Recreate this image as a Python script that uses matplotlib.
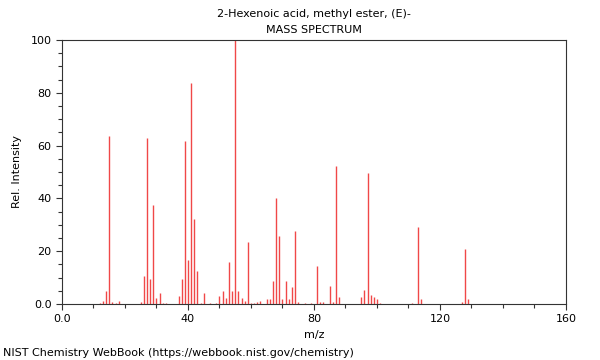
import matplotlib.pyplot as plt
from matplotlib.ticker import MultipleLocator, FixedLocator, FuncFormatter

# peaks (m/z, relative intensity)
mz = [12, 13, 14, 15, 16, 17, 18, 25, 26, 27, 28, 29, 30, 31, 32, 33,
      37, 38, 39, 40, 41, 42, 43, 44, 45, 47, 49, 50, 51, 52, 53, 54, 55,
      56, 57, 58, 59, 60, 61, 62, 63, 65, 66, 67, 68, 69, 70, 71, 72, 73,
      74, 75, 77, 79, 81, 82, 83, 85, 86, 87, 88, 95, 96, 97, 98, 99, 100,
      101, 111, 113, 114, 127, 128, 129]
intensity = [0.5, 1.2, 5.0, 63.8, 0.8, 0.3, 1.2, 0.6, 10.6, 63.0, 9.6, 37.5,
             2.4, 4.3, 0.5, 0.5,
             3.1, 9.3, 61.9, 16.8, 83.8, 32.3, 12.5, 0.5, 4.3, 0.5, 0.5, 3.0,
             5.0, 2.1, 16.0, 5.0, 100.0,
             5.0, 2.4, 1.0, 23.6, 0.5, 0.5, 0.7, 1.2, 2.0, 1.8, 8.6, 40.1,
             25.9, 1.8, 8.8, 1.8, 6.6,
             27.8, 0.7, 0.3, 0.5, 14.3, 0.9, 0.9, 6.9, 0.7, 52.4, 2.5, 2.5,
             5.3, 49.5, 3.5, 2.5, 1.9,
             0.5, 0.5, 29.3, 2.0, 0.7, 20.8, 1.9]

fig = plt.figure(figsize=(6, 3.6), dpi=100)
ax = fig.add_axes([0.1033, 0.1556, 0.84, 0.7333])

ax.vlines(mz, 0, intensity, colors='#f04848', linewidth=1.0)

ax.set_xlim(0, 160)
ax.set_ylim(0, 100)
ax.xaxis.set_major_locator(FixedLocator([0, 40, 80, 120, 160]))
ax.xaxis.set_minor_locator(MultipleLocator(10))
ax.yaxis.set_major_locator(MultipleLocator(20))
ax.yaxis.set_minor_locator(MultipleLocator(5))
fmt = FuncFormatter(lambda v, p: '0.0' if v == 0 else f'{v:.0f}')
ax.xaxis.set_major_formatter(fmt)
ax.yaxis.set_major_formatter(fmt)
ax.tick_params(which='major', length=4, width=0.8, labelsize=8, color='#333333')
ax.tick_params(which='minor', length=3, width=0.8, color='#333333')
for s in ax.spines.values():
    s.set_color('#333333')
    s.set_linewidth(0.8)

ax.set_xlabel('m/z', fontsize=8, labelpad=4)
ax.set_ylabel('Rel. Intensity', fontsize=8, labelpad=6)

fig.text(0.523, 0.961, '2-Hexenoic acid, methyl ester, (E)-', ha='center', va='center', fontsize=8)
fig.text(0.523, 0.917, 'MASS SPECTRUM', ha='center', va='center', fontsize=8)
fig.text(0.005, 0.019, 'NIST Chemistry WebBook (https://webbook.nist.gov/chemistry)', ha='left', va='center', fontsize=8)

fig.savefig('out.png', dpi=100)
